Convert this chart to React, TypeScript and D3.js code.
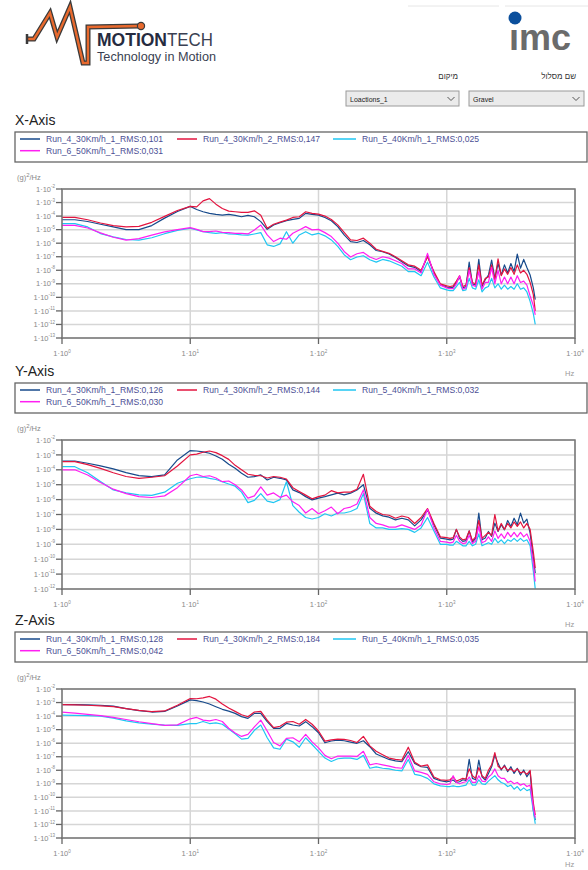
import React, { useEffect, useRef } from "react";
import * as d3 from "d3";

// frequency grid as log10(Hz)
const freqExp = [
  0, 0.1, 0.2, 0.3, 0.4, 0.5, 0.6, 0.7, 0.8, 0.9, 1.0,
  1.05, 1.1, 1.15, 1.2, 1.25, 1.3, 1.35, 1.4, 1.45, 1.5, 1.55, 1.6, 1.65, 1.7, 1.75, 1.8, 1.85, 1.9, 1.95, 2.0,
  2.05, 2.1, 2.15, 2.2, 2.25, 2.3, 2.35, 2.4, 2.45, 2.5, 2.55, 2.6, 2.65, 2.7, 2.75, 2.8, 2.85, 2.9, 2.95, 3.0,
  3.025, 3.05, 3.075, 3.1, 3.125, 3.15, 3.175, 3.2, 3.225, 3.25, 3.275, 3.3, 3.325, 3.35, 3.375, 3.4, 3.425, 3.45, 3.475, 3.5, 3.525, 3.55, 3.575, 3.6, 3.625, 3.65, 3.675,
  3.69
];

const runNames = ["Run_4_30Km/h_1", "Run_4_30Km/h_2", "Run_5_40Km/h_1", "Run_6_50Km/h_1"];
const runColors = ["#174a8b", "#e3143f", "#1fc6f2", "#ff1ff2"];

const rmsX = ["0,101", "0,147", "0,025", "0,031"];
const rmsY = ["0,126", "0,144", "0,032", "0,030"];
const rmsZ = ["0,128", "0,184", "0,035", "0,042"];

const freqTickExps = [0, 1, 2, 3, 4];
const psdTickExpsXZ = [-2, -3, -4, -5, -6, -7, -8, -9, -10, -11, -12, -13];
const psdTickExpsY = [-2, -3, -4, -5, -6, -7, -8, -9, -10, -11, -12];

// PSD values as log10((g)^2/Hz)
const xRun4a = [
  -4.27, -4.27, -4.4, -4.6, -4.8, -5.0, -5.0, -4.7, -4.15, -3.66, -3.28,
  -3.51, -3.68, -3.8, -3.88, -3.93, -3.88, -3.95, -4.05, -3.95, -4.05, -4.41, -4.98, -4.66, -4.49, -4.34, -4.24, -4.17, -3.8, -3.88, -3.93,
  -4.1, -4.34, -4.78, -5.39, -5.88, -5.95, -5.8, -6.12, -6.54, -6.63, -6.8, -7.05, -7.37, -7.68, -7.78, -8.1, -6.95, -8.2, -9.07, -9.24,
  -9.3, -9.25, -8.9, -8.5, -9.3, -9.2, -7.4, -9.0, -9.1, -7.2, -9.2, -8.7, -8.35, -7.25, -8.6, -7.5, -8.35, -7.6, -8.2, -7.5, -8.1, -6.8, -7.85, -7.2, -7.8, -8.35, -9.3,
  -10.17
];
const xRun4b = [
  -4.1, -4.1, -4.27, -4.51, -4.71, -4.8, -4.76, -4.46, -4.02, -3.59, -3.28,
  -3.32, -2.88, -2.71, -3.12, -3.44, -3.63, -3.68, -3.73, -3.73, -3.61, -3.93, -4.9, -4.6, -4.45, -4.3, -4.1, -4.05, -3.68, -3.8, -3.85,
  -4.0, -4.25, -4.65, -5.2, -5.76, -5.8, -5.63, -6.0, -6.45, -6.6, -6.75, -7.0, -7.3, -7.6, -7.7, -8.0, -7.0, -8.1, -9.0, -9.15,
  -9.2, -9.15, -8.8, -8.4, -9.2, -9.1, -7.8, -8.9, -9.0, -7.6, -9.1, -8.6, -8.5, -7.6, -8.7, -7.15, -8.4, -7.9, -8.3, -7.8, -8.3, -7.6, -8.2, -8.0, -8.3, -8.9, -9.8,
  -11.0
];
const xRun5 = [
  -4.56, -4.56, -4.8, -5.29, -5.54, -5.73, -5.78, -5.6, -5.3, -5.05, -4.9,
  -5.02, -5.15, -5.22, -5.27, -5.22, -5.32, -5.34, -5.39, -5.41, -5.32, -5.22, -6.12, -6.24, -6.05, -5.15, -6.0, -5.39, -5.15, -5.39, -5.27,
  -5.46, -5.76, -6.24, -6.85, -7.22, -7.02, -6.93, -7.22, -7.4, -7.2, -7.3, -7.5, -7.7, -8.1, -8.1, -8.4, -7.4, -8.5, -9.3, -9.45,
  -9.5, -9.5, -9.2, -8.9, -9.5, -9.45, -8.6, -9.3, -9.4, -8.7, -9.6, -9.3, -9.2, -8.6, -9.3, -9.0, -9.4, -9.1, -9.4, -9.2, -9.4, -9.0, -9.4, -9.3, -9.6, -10.3, -11.2,
  -12.0
];
const xRun6 = [
  -4.68, -4.68, -4.88, -5.24, -5.56, -5.78, -5.66, -5.41, -5.17, -5.0, -4.85,
  -4.98, -5.15, -5.15, -5.1, -5.2, -5.22, -5.27, -5.27, -5.32, -5.02, -4.66, -5.39, -5.88, -5.63, -5.71, -5.27, -5.02, -4.78, -5.02, -4.98,
  -5.22, -5.51, -6.0, -6.61, -7.02, -6.78, -6.68, -7.02, -7.2, -7.0, -7.1, -7.3, -7.5, -7.9, -7.9, -8.2, -6.75, -8.3, -9.1, -9.3,
  -9.35, -9.35, -9.0, -8.4, -9.4, -9.3, -8.0, -9.1, -9.2, -8.1, -9.4, -8.9, -8.9, -7.8, -9.0, -8.0, -9.0, -8.5, -9.0, -8.5, -9.0, -8.4, -8.9, -8.8, -9.1, -9.9, -10.6,
  -11.3
];

const yRun4a = [
  -3.41, -3.41, -3.56, -3.74, -3.94, -4.19, -4.39, -4.46, -4.34, -3.34, -2.71,
  -2.74, -2.8, -2.89, -3.07, -3.29, -3.63, -3.9, -4.23, -4.5, -4.46, -4.34, -4.68, -4.5, -4.57, -4.68, -5.35, -5.53, -5.8, -6.02, -5.9,
  -5.8, -5.68, -5.57, -5.68, -5.57, -5.35, -5.0, -6.58, -6.91, -7.09, -7.18, -7.36, -7.25, -7.36, -7.76, -7.36, -6.69, -7.69, -8.58, -8.65,
  -8.7, -8.65, -8.0, -8.6, -8.8, -8.75, -8.1, -8.85, -8.6, -6.9, -8.7, -8.58, -8.14, -8.47, -7.58, -8.14, -7.69, -8.03, -7.4, -7.8, -7.25, -7.69, -6.91, -7.58, -7.31, -8.25, -9.92,
  -10.93
];
const yRun4b = [
  -3.45, -3.45, -3.65, -3.9, -4.2, -4.45, -4.57, -4.5, -4.4, -3.75, -3.0,
  -2.95, -2.82, -2.74, -2.85, -3.05, -3.3, -3.7, -4.0, -4.3, -4.38, -4.4, -4.55, -4.45, -4.5, -4.62, -5.2, -5.45, -5.7, -5.95, -5.8,
  -5.7, -5.4, -5.55, -5.5, -5.5, -5.3, -4.3, -6.45, -6.8, -7.0, -7.05, -7.25, -7.1, -7.2, -7.6, -7.2, -6.6, -7.6, -8.5, -8.55,
  -8.6, -8.55, -8.0, -8.5, -8.7, -8.65, -8.1, -8.75, -8.5, -7.4, -8.6, -8.4, -8.2, -8.4, -7.0, -8.1, -7.6, -8.0, -7.6, -7.9, -7.5, -7.8, -7.5, -7.9, -7.6, -8.0, -9.5,
  -10.6
];
const yRun5 = [
  -3.79, -3.79, -4.2, -4.79, -5.35, -5.55, -5.68, -5.72, -5.5, -4.9, -4.6,
  -4.5, -4.48, -4.57, -4.65, -4.8, -4.95, -5.1, -5.5, -6.2, -6.05, -5.6, -6.1, -6.2, -6.0, -4.8, -6.4, -6.85, -7.2, -7.3, -7.2,
  -6.95, -7.1, -6.9, -6.9, -6.8, -6.6, -5.6, -7.6, -7.9, -7.9, -8.0, -8.0, -7.95, -8.0, -8.2, -7.9, -7.2, -8.1, -9.0, -9.0,
  -9.05, -9.05, -8.8, -8.95, -9.1, -9.1, -8.8, -9.1, -9.0, -8.3, -9.1, -9.0, -8.9, -9.0, -8.6, -8.9, -8.7, -8.95, -8.7, -8.8, -8.6, -8.8, -8.6, -8.8, -8.7, -9.1, -10.8,
  -12.0
];
const yRun6 = [
  -4.0, -4.0, -4.35, -4.85, -5.3, -5.6, -5.8, -5.86, -5.75, -5.2, -4.4,
  -4.3, -4.45, -4.4, -4.55, -4.8, -4.75, -5.0, -5.35, -5.9, -5.75, -5.15, -5.7, -5.55, -5.85, -5.7, -6.15, -6.4, -6.9, -6.6, -6.95,
  -6.75, -6.5, -6.95, -6.6, -6.5, -6.3, -5.35, -7.2, -7.6, -7.7, -7.85, -7.85, -7.7, -7.85, -8.0, -7.7, -6.65, -7.9, -8.8, -8.85,
  -8.9, -8.85, -8.4, -8.8, -8.95, -8.9, -8.4, -8.95, -8.8, -7.8, -8.9, -8.8, -8.5, -8.8, -8.1, -8.6, -8.3, -8.6, -8.2, -8.5, -8.2, -8.5, -8.2, -8.5, -8.3, -8.8, -10.3,
  -11.5
];

const zRun4a = [
  -3.15, -3.15, -3.17, -3.2, -3.27, -3.45, -3.6, -3.7, -3.65, -3.25, -2.8,
  -2.86, -2.96, -3.11, -3.31, -3.5, -3.63, -3.8, -4.04, -4.17, -3.8, -3.8, -4.41, -4.9, -4.9, -4.54, -4.66, -4.73, -4.41, -4.78, -5.23,
  -5.97, -5.84, -5.77, -5.82, -5.92, -6.01, -5.82, -6.26, -6.8, -7.0, -7.2, -7.3, -7.37, -6.63, -7.49, -7.74, -7.79, -8.6, -8.77, -8.85,
  -8.8, -8.72, -8.9, -8.85, -8.7, -8.75, -7.2, -8.6, -8.7, -7.25, -8.48, -8.72, -8.23, -7.74, -6.88, -7.49, -7.98, -7.62, -8.1, -7.74, -8.23, -7.86, -8.35, -7.98, -8.48, -8.1, -10.94,
  -11.68
];
const zRun4b = [
  -3.15, -3.17, -3.2, -3.25, -3.3, -3.45, -3.58, -3.67, -3.62, -3.2, -2.7,
  -2.72, -2.65, -2.55, -2.75, -3.1, -3.4, -3.65, -3.9, -4.05, -3.7, -3.65, -4.3, -4.85, -4.75, -4.45, -4.4, -4.6, -4.25, -4.6, -5.1,
  -5.85, -5.75, -5.7, -5.72, -5.8, -5.95, -5.5, -6.2, -6.6, -6.85, -7.1, -7.2, -7.25, -6.3, -7.4, -7.7, -7.6, -8.5, -8.7, -8.75,
  -8.7, -8.5, -8.8, -8.7, -8.6, -8.65, -7.9, -8.4, -8.6, -7.8, -8.4, -8.6, -8.0, -7.6, -6.7, -7.7, -7.9, -7.7, -8.0, -7.9, -8.1, -7.9, -8.2, -8.1, -8.3, -8.0, -10.4,
  -11.3
];
const zRun5 = [
  -3.93, -3.95, -3.97, -4.0, -4.15, -4.35, -4.5, -4.6, -4.67, -4.69, -4.55,
  -4.55, -4.4, -4.55, -4.5, -4.6, -4.95, -5.3, -5.7, -5.65, -5.05, -4.66, -5.6, -6.35, -6.45, -5.7, -5.9, -6.3, -5.6, -6.1, -6.6,
  -7.1, -7.35, -7.15, -7.1, -7.1, -7.2, -6.9, -7.85, -7.75, -7.85, -7.9, -8.0, -8.05, -7.2, -8.3, -8.4, -8.6, -9.0, -9.15, -9.2,
  -9.2, -9.15, -9.2, -9.2, -9.15, -9.1, -8.7, -9.1, -9.1, -8.7, -9.0, -9.05, -8.8, -8.6, -8.4, -8.7, -8.9, -9.0, -9.2, -9.1, -9.4, -9.2, -9.5, -9.3, -9.5, -9.4, -11.0,
  -11.95
];
const zRun6 = [
  -3.71, -3.78, -3.87, -3.96, -4.1, -4.25, -4.42, -4.55, -4.68, -4.65, -4.2,
  -4.1, -4.3, -4.35, -4.25, -4.4, -4.9, -5.25, -5.5, -5.35, -4.8, -4.3, -5.1, -5.95, -6.2, -5.65, -5.6, -5.9, -5.35, -5.9, -6.35,
  -6.9, -7.15, -6.95, -6.95, -6.95, -6.98, -6.6, -7.6, -7.5, -7.6, -7.7, -7.8, -7.85, -6.9, -8.05, -8.15, -8.3, -8.85, -9.0, -9.05,
  -9.0, -8.4, -8.9, -9.0, -8.9, -8.85, -8.5, -8.9, -8.9, -8.4, -8.8, -8.85, -8.5, -8.3, -7.9, -8.4, -8.6, -8.6, -8.9, -8.8, -9.0, -8.9, -9.1, -9.0, -9.2, -9.1, -10.7,
  -11.5
];

const FONT = "'Liberation Sans', Arial, Helvetica, sans-serif";
const PLOT_LEFT = 62;
const PLOT_RIGHT = 575;

const panels = [
  { title: "X-Axis", top: 115, hzY: 376, rms: rmsX, series: [xRun4a, xRun4b, xRun5, xRun6], psdExps: psdTickExpsXZ },
  { title: "Y-Axis", top: 366, hzY: 627, rms: rmsY, series: [yRun4a, yRun4b, yRun5, yRun6], psdExps: psdTickExpsY },
  { title: "Z-Axis", top: 615, hzY: 867, rms: rmsZ, series: [zRun4a, zRun4b, zRun5, zRun6], psdExps: psdTickExpsXZ }
];

// legend slot positions (x of line start, row)
const legendSlots = [
  { x: 20, row: 0, len: 20 },
  { x: 177, row: 0, len: 20 },
  { x: 333, row: 0, len: 23 },
  { x: 20, row: 1, len: 20 }
];

const drawHeader = (svg) => {
  const g = svg.append("g");

  // faint top rules on the right
  g.append("line").attr("x1", 408).attr("x2", 499).attr("y1", 6).attr("y2", 6)
    .attr("stroke", "#e6e6e6").attr("stroke-width", 1);
  g.append("line").attr("x1", 505).attr("x2", 588).attr("y1", 6).attr("y2", 6)
    .attr("stroke", "#e6e6e6").attr("stroke-width", 1);

  // MotionTech pulse logo
  const pulse = "M27,39 L34,39 L50,13 L57,37 L70,7 L83,63 L88,63 L88,27 L139,26";
  g.append("path").attr("d", pulse).attr("fill", "none")
    .attr("stroke", "#3a3a3a").attr("stroke-width", 5).attr("stroke-linejoin", "miter");
  g.append("path").attr("d", pulse).attr("fill", "none")
    .attr("stroke", "#e8692d").attr("stroke-width", 2.4).attr("stroke-linejoin", "miter");
  g.append("line").attr("x1", 27).attr("x2", 27).attr("y1", 34).attr("y2", 44)
    .attr("stroke", "#3a3a3a").attr("stroke-width", 2.5);
  g.append("circle").attr("cx", 141).attr("cy", 26).attr("r", 3.6)
    .attr("fill", "#e8692d").attr("stroke", "#3a3a3a").attr("stroke-width", 1.2);

  g.append("text").attr("x", 97).attr("y", 46)
    .attr("textLength", 70).attr("lengthAdjust", "spacingAndGlyphs")
    .style("font-family", FONT).style("font-size", "18px").style("font-weight", "bold")
    .attr("fill", "#262b40").text("MOTION");
  g.append("text").attr("x", 167).attr("y", 46)
    .attr("textLength", 46).attr("lengthAdjust", "spacingAndGlyphs")
    .style("font-family", FONT).style("font-size", "18px")
    .attr("fill", "#3a3f52").text("TECH");
  g.append("text").attr("x", 97).attr("y", 61)
    .attr("textLength", 119).attr("lengthAdjust", "spacingAndGlyphs")
    .style("font-family", FONT).style("font-size", "12px").attr("fill", "#3a3f52")
    .text("Technology in Motion");

  // imc logo
  g.append("text").attr("x", 509).attr("y", 50)
    .style("font-family", FONT).style("font-size", "36px").style("font-weight", "bold")
    .attr("fill", "#6b6b6b").text("ımc");
  g.append("circle").attr("cx", 515).attr("cy", 18).attr("r", 6.5).attr("fill", "#0b4f9c");

  // selectors
  const labels = [
    { text: "מיקום", x: 458 },
    { text: "שם מסלול", x: 576 }
  ];
  labels.forEach((l) => {
    g.append("text").attr("x", l.x).attr("y", 79).attr("text-anchor", "end")
      .style("font-family", FONT).style("font-size", "8px").attr("fill", "#333").text(l.text);
  });

  const boxes = [
    { text: "Loactions_1", x: 346, w: 113 },
    { text: "Gravel", x: 469, w: 115 }
  ];
  boxes.forEach((b) => {
    g.append("rect").attr("x", b.x).attr("y", 91).attr("width", b.w).attr("height", 15)
      .attr("fill", "#ebebeb").attr("stroke", "#9a9a9a").attr("stroke-width", 1);
    g.append("text").attr("x", b.x + 4).attr("y", 101.5)
      .style("font-family", FONT).style("font-size", "7px").attr("fill", "#222").text(b.text);
    const cx = b.x + b.w - 8;
    g.append("path").attr("d", `M${cx - 3.5},97 L${cx},100.5 L${cx + 3.5},97`)
      .attr("fill", "none").attr("stroke", "#555").attr("stroke-width", 1);
  });
};

const drawPanel = (svg, p) => {
  const g = svg.append("g");
  const plotTop = p.top + 74;
  const plotBottom = p.top + 223;

  const x = d3.scaleLog()
    .domain([10 ** freqTickExps[0], 10 ** freqTickExps[freqTickExps.length - 1]])
    .range([PLOT_LEFT, PLOT_RIGHT]);
  const y = d3.scaleLog()
    .domain([10 ** p.psdExps[p.psdExps.length - 1], 10 ** p.psdExps[0]])
    .range([plotBottom, plotTop]);

  // title
  g.append("text").attr("x", 15).attr("y", p.top + 10)
    .style("font-family", FONT).style("font-size", "14px").attr("fill", "#222").text(p.title);

  // legend
  const legTop = p.top + 17;
  g.append("rect").attr("x", 15).attr("y", legTop).attr("width", 572).attr("height", 30)
    .attr("fill", "none").attr("stroke", "#666").attr("stroke-width", 1.3);
  legendSlots.forEach((s, i) => {
    const ly = legTop + 7 + s.row * 11.7;
    g.append("line").attr("x1", s.x).attr("x2", s.x + s.len).attr("y1", ly).attr("y2", ly)
      .attr("stroke", runColors[i]).attr("stroke-width", 1.5);
    g.append("text").attr("x", s.x + s.len + 6).attr("y", ly + 3)
      .style("font-family", FONT).style("font-size", "8.6px").attr("fill", "#4b4f94")
      .text(`${runNames[i]}_RMS:${p.rms[i]}`);
  });

  // unit label
  const unit = g.append("text").attr("x", 17).attr("y", p.top + 65)
    .style("font-family", FONT).style("font-size", "7.5px").attr("fill", "#888");
  unit.append("tspan").text("(g)");
  unit.append("tspan").attr("dy", -3).style("font-size", "6px").text("2");
  unit.append("tspan").attr("dy", 3).text("/Hz");

  // grid
  p.psdExps.forEach((e) => {
    g.append("line").attr("x1", PLOT_LEFT).attr("x2", PLOT_RIGHT)
      .attr("y1", y(10 ** e)).attr("y2", y(10 ** e))
      .attr("stroke", "#d6d6d6").attr("stroke-width", 1.5);
  });
  freqTickExps.forEach((e) => {
    g.append("line").attr("x1", x(10 ** e)).attr("x2", x(10 ** e))
      .attr("y1", plotTop).attr("y2", plotBottom)
      .attr("stroke", "#d6d6d6").attr("stroke-width", 1.5);
  });

  // series
  const line = d3.line()
    .defined((_, i) => i < freqExp.length)
    .x((_, i) => x(10 ** freqExp[i]))
    .y((v) => y(10 ** v));
  p.series.forEach((s, i) => {
    g.append("path").attr("d", line(s)).attr("fill", "none")
      .attr("stroke", runColors[i]).attr("stroke-width", 1.2)
      .attr("stroke-linejoin", "round");
  });

  // frame and ticks
  g.append("rect").attr("x", PLOT_LEFT).attr("y", plotTop)
    .attr("width", PLOT_RIGHT - PLOT_LEFT).attr("height", plotBottom - plotTop)
    .attr("fill", "none").attr("stroke", "#777").attr("stroke-width", 1.5);

  p.psdExps.forEach((e) => {
    const yy = y(10 ** e);
    g.append("line").attr("x1", PLOT_LEFT - 6).attr("x2", PLOT_LEFT).attr("y1", yy).attr("y2", yy)
      .attr("stroke", "#666").attr("stroke-width", 1.3);
    const t = g.append("text").attr("x", 55).attr("y", yy + 2.6).attr("text-anchor", "end")
      .style("font-family", FONT).style("font-size", "7.5px").attr("fill", "#888");
    t.append("tspan").text("1·10");
    t.append("tspan").attr("dy", -3.5).style("font-size", "4.5px").text(String(e));
  });
  freqTickExps.forEach((e) => {
    const xx = x(10 ** e);
    g.append("line").attr("x1", xx).attr("x2", xx).attr("y1", plotBottom).attr("y2", plotBottom + 6)
      .attr("stroke", "#666").attr("stroke-width", 1.3);
    const t = g.append("text").attr("x", xx).attr("y", p.top + 241).attr("text-anchor", "middle")
      .style("font-family", FONT).style("font-size", "7.5px").attr("fill", "#888");
    t.append("tspan").text("1·10");
    t.append("tspan").attr("dy", -3.5).style("font-size", "4.5px").text(String(e));
  });

  g.append("text").attr("x", 565).attr("y", p.hzY)
    .style("font-family", FONT).style("font-size", "7.5px").attr("fill", "#999").text("Hz");
};

const App = () => {
  const svgRef = useRef(null);

  useEffect(() => {
    const svg = d3.select(svgRef.current);
    svg.selectAll("*").remove();
    drawHeader(svg);
    panels.forEach((p) => drawPanel(svg, p));
  }, []);

  return (
    <svg
      ref={svgRef}
      width={588}
      height={870}
      style={{ position: "absolute", left: 0, top: 0, background: "#fff" }}
    />
  );
};

export default App;
